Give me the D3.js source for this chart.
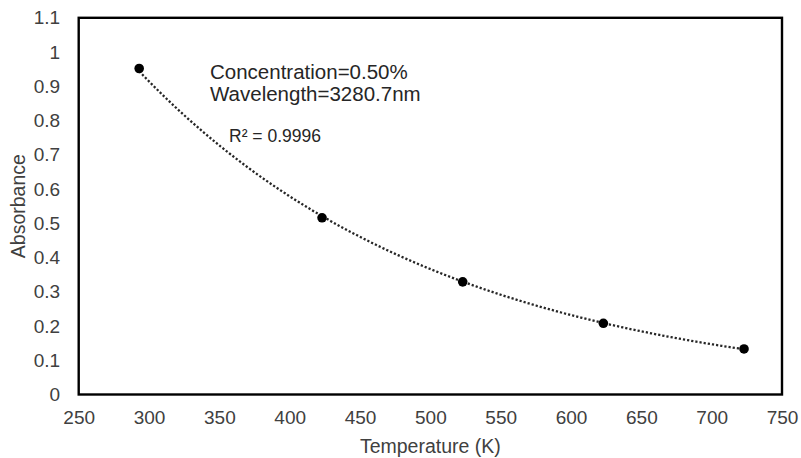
<!DOCTYPE html>
<title>Absorbance vs temperature</title>
<body>
<script src="https://cdn.jsdelivr.net/npm/d3@7"></script>
<style>
  html, body {
    margin: 0;
    background: #fff;
  }
  svg text {
    font-family: "Liberation Sans", Arial, sans-serif;
  }
</style>
<script>
  // data
  var temperature = [293, 423, 523, 623, 723],
    absorbance = [0.952, 0.516, 0.329, 0.208, 0.133];

  var xTicks = [250, 300, 350, 400, 450, 500, 550, 600, 650, 700, 750],
    yTicks = [0, 0.1, 0.2, 0.3, 0.4, 0.5, 0.6, 0.7, 0.8, 0.9, 1, 1.1];

  var notes = ["Concentration=0.50%", "Wavelength=3280.7nm"],
    r2Label = "R\u00b2 = 0.9996";

  // plot box edges (note: "top" is a reserved window global, so avoid it)
  var width = 801, height = 458,
    plotL = 78.7, plotR = 782, plotT = 17.8, plotB = 394.5;

  var svg = d3.select("body").append("svg")
    .attr("width", width)
    .attr("height", height);

  var x = d3.scaleLinear().domain([250, 750]).range([plotL, plotR]),
    y = d3.scaleLinear().domain([0, 1.1]).range([plotB, plotT]);

  // axes: labels only, no tick marks
  var xAxis = svg.append("g")
    .attr("transform", "translate(0," + plotB + ")")
    .call(d3.axisBottom(x).tickValues(xTicks).tickSize(0).tickPadding(16.5)
      .tickFormat(d3.format("d")));
  var yAxis = svg.append("g")
    .attr("transform", "translate(" + plotL + ",0)")
    .call(d3.axisLeft(y).tickValues(yTicks).tickSize(0).tickPadding(18.5)
      .tickFormat(function(d) { return String(+d.toFixed(1)); }));

  [xAxis, yAxis].forEach(function(g) {
    g.select(".domain").remove();
    g.selectAll("text")
      .attr("fill", "#404040")
      .style("font-size", "19px");
  });

  // exponential trendline, least squares on ln(y)
  var lx = temperature,
    ly = absorbance.map(Math.log),
    mx = d3.mean(lx), my = d3.mean(ly),
    sxy = d3.sum(lx, function(v, i) { return (v - mx) * (ly[i] - my); }),
    sxx = d3.sum(lx, function(v) { return (v - mx) * (v - mx); }),
    b = sxy / sxx,
    a = Math.exp(my - b * mx);

  var trendX = d3.range(d3.min(temperature), d3.max(temperature) + 0.5, 2);
  var line = d3.line()
    .x(function(d) { return x(d); })
    .y(function(d) { return y(a * Math.exp(b * d)); });

  svg.append("path")
    .datum(trendX)
    .attr("d", line)
    .attr("fill", "none")
    .attr("stroke", "#262626")
    .attr("stroke-width", 2.3)
    .attr("stroke-dasharray", "2.2 2");

  svg.selectAll("circle.pt")
    .data(temperature)
    .enter().append("circle")
    .attr("class", "pt")
    .attr("cx", function(d) { return x(d); })
    .attr("cy", function(d, i) { return y(absorbance[i]); })
    .attr("r", 4.8)
    .attr("fill", "#000");

  // plot frame
  svg.append("rect")
    .attr("x", plotL)
    .attr("y", plotT)
    .attr("width", plotR - plotL)
    .attr("height", plotB - plotT)
    .attr("fill", "none")
    .attr("stroke", "#000")
    .attr("stroke-width", 2.4);

  // annotations
  svg.selectAll("text.note")
    .data(notes)
    .enter().append("text")
    .attr("class", "note")
    .attr("x", 210)
    .attr("y", function(d, i) { return 79 + i * 22; })
    .attr("fill", "#262626")
    .style("font-size", "20.5px")
    .text(function(d) { return d; });

  svg.append("text")
    .attr("x", 229)
    .attr("y", 141.5)
    .attr("fill", "#262626")
    .style("font-size", "17.5px")
    .text(r2Label);

  svg.append("text")
    .attr("x", (plotL + plotR) / 2)
    .attr("y", 453)
    .attr("text-anchor", "middle")
    .attr("fill", "#404040")
    .style("font-size", "19.5px")
    .text("Temperature (K)");

  svg.append("text")
    .attr("transform", "translate(25," + (plotT + plotB) / 2 + ") rotate(-90)")
    .attr("text-anchor", "middle")
    .attr("fill", "#404040")
    .style("font-size", "19.5px")
    .text("Absorbance");
</script>
